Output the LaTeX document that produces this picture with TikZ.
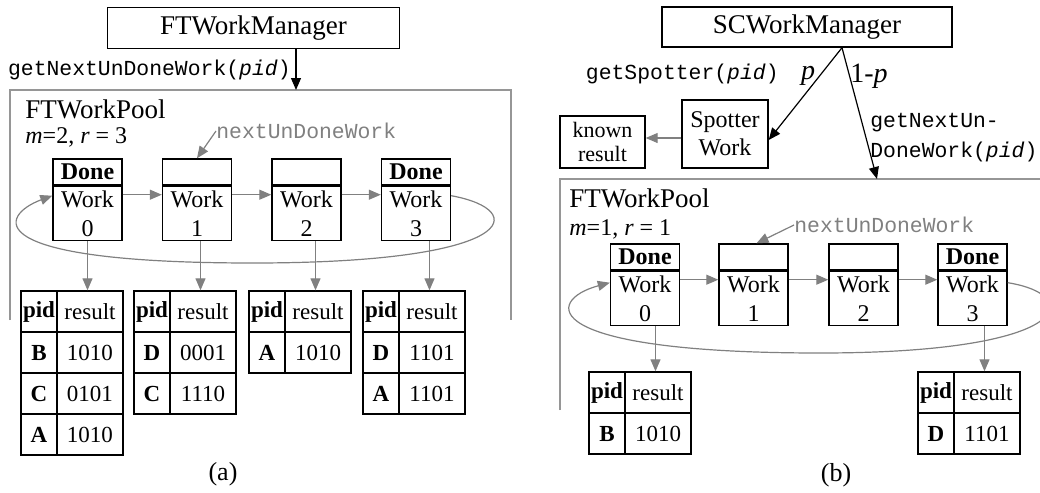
\documentclass[tikz,border=0pt]{standalone}
\usepackage{fontspec}
\setmainfont{Liberation Serif}
\setmonofont{Liberation Mono}
\usetikzlibrary{arrows.meta}
\definecolor{linkgray}{RGB}{128,128,128}
\definecolor{poolgray}{RGB}{150,150,150}
\newcommand\fsz[2]{\fontsize{#1}{#2}\selectfont}

\begin{document}
\begin{tikzpicture}[x=0.5pt,y=-0.5pt,
  box/.style={draw, line width=0.7pt, inner sep=0pt, align=center},
  mgr/.style={box, minimum width=146pt, minimum height=20.5pt, font=\fsz{13.5}{13.5}},
  headbox/.style={box, minimum width=34.5pt, minimum height=13pt, font=\fsz{12}{12}\bfseries},
  bodybox/.style={box, minimum width=34.5pt, minimum height=27pt, font=\fsz{12}{14.5}},
  pcell/.style={box, minimum width=18pt, minimum height=20.5pt, font=\fsz{11.5}{11.5}\bfseries},
  rcell/.style={box, minimum width=33pt, minimum height=20.5pt, font=\fsz{11.5}{11.5}},
  mono/.style={inner sep=0pt, font=\fsz{10.7}{15}\ttfamily},
  txt/.style={inner sep=0pt},
  pool/.style={draw=poolgray, line width=0.7pt},
  barrow/.style={draw=black, line width=0.6pt, -{Triangle[length=6pt,width=5pt]}},
  garrow/.style={draw=linkgray, line width=0.6pt, -{Triangle[length=6pt,width=5pt]}}]
\useasboundingbox (0,0) rectangle (1040,493);

% ---------------- (a) FTWorkManager ----------------
\node[mgr] (mgrA) at (253.5,28) {FTWorkManager};
\draw[pool] (10,320) -- (10,90) -- (511,90) -- (511,320);
\coordinate (poolAtop) at (296,90);
\draw[barrow] (mgrA.south -| poolAtop) -- (poolAtop);
\node[mono, anchor=east] (callA) at (291,70) {getNextUnDoneWork(\textit{pid})};
\node[txt, anchor=base west, font=\fsz{13.5}{13.5}] (poolAname) at (25,118) {FTWorkPool};
\node[txt, anchor=base west, font=\fsz{12}{12}] (paramA) at (25,143) {\textit{m}=2, \textit{r} = 3};

% work slots
\foreach \k/\xx/\tag in {0/87.5/Done, 1/197/, 2/306.5/, 3/416/Done} {
  \node[headbox] (ha\k) at (\xx,172) {\tag};
  \node[bodybox, anchor=north] (ba\k) at (ha\k.south) {Work\\\k};
}
\node[mono, anchor=west, text=linkgray] (nudA) at (216,131) {nextUnDoneWork};
\draw[garrow] (nudA.west) -- (ha1.north);
\foreach \i/\j in {0/1,1/2,2/3}
  \draw[garrow] ([yshift=-4.5pt]ba\i.north east) -- ([yshift=-4.5pt]ba\j.north west);
\draw[garrow] ([yshift=-5pt]ba3.north east) .. controls (530,210) and (520,263) .. (253,263)
  .. controls (-25,263) and (0,215) .. ([yshift=-5pt]ba0.north west);

% ---------------- (b) SCWorkManager ----------------
\node[mgr, minimum width=145pt, minimum height=20pt] (mgrB) at (807,27) {SCWorkManager};
\coordinate (apex) at ([xshift=17.5pt]mgrB.south);
\node[box, minimum width=43pt, minimum height=34pt, font=\fsz{12}{14}] (spot) at (725,134) {Spotter\\Work};
\node[box, minimum width=42.5pt, minimum height=26pt, font=\fsz{11}{12}] (known) at (602.5,142) {known\\result};
\draw[garrow] ([yshift=-2pt]spot.west) -- ([yshift=2pt]known.east);
\draw[pool] (560,410) -- (560,179) -- (1042,179);
\coordinate (poolBtop) at (877,179);
\draw[barrow] (apex) -- ([yshift=-3pt]spot.east);
\draw[barrow] (apex) -- (poolBtop);
\node[txt, font=\fsz{14}{14}\itshape] (plab) at (808,76) {p};
\node[txt, font=\fsz{14}{14}] (qlab) at (869,76) {1-\textit{p}};
\node[mono, anchor=east] (spotcall) at (779,74) {getSpotter(\textit{pid})};
\node[mono, anchor=north west, align=left] (callB) at (870,113) {getNextUn-\\DoneWork(\textit{pid})};
\node[txt, anchor=base west, font=\fsz{13.5}{13.5}] (poolBname) at (569,207) {FTWorkPool};
\node[txt, anchor=base west, font=\fsz{12}{12}] (paramB) at (569,235) {\textit{m}=1, \textit{r} = 1};

\foreach \k/\xx/\tag in {0/645/Done, 1/753.5/, 2/863.5/, 3/972.5/Done} {
  \node[headbox] (hb\k) at (\xx,257) {\tag};
  \node[bodybox, anchor=north] (bb\k) at (hb\k.south) {Work\\\k};
}
\node[mono, anchor=west, text=linkgray] (nudB) at (794,225) {nextUnDoneWork};
\draw[garrow] (nudB.west) -- ([xshift=1.5pt]hb1.north);
\foreach \i/\j in {0/1,1/2,2/3}
  \draw[garrow] ([yshift=-4.5pt]bb\i.north east) -- ([yshift=-4.5pt]bb\j.north west);
\draw[garrow] ([yshift=-6pt]bb3.north east) .. controls (1085,295) and (1075,353) .. (820,353)
  .. controls (535,353) and (545,300) .. ([yshift=-6pt]bb0.north west);

% ---------------- result tables ----------------
\foreach \tname/\xx/\yy/\rows in {ta0/21/291/{B/1010,C/0101,A/1010}, ta1/134/291/{D/0001,C/1110},
    ta2/249/291/{A/1010}, ta3/363/291/{D/1101,A/1101}, tb0/589/372/{B/1010}, tb1/918/372/{D/1101}} {
  \node[pcell] (\tname p0) at (\xx+18,\yy+20.5) {pid};
  \node[rcell] (\tname r0) at (\xx+69,\yy+20.5) {result};
  \foreach \pidv/\resv [count=\i] in \rows {
    \node[pcell] (\tname p\i) at (\xx+18,\yy+20.5+41*\i) {\pidv};
    \node[rcell] (\tname r\i) at (\xx+69,\yy+20.5+41*\i) {\resv};
  }
}
\foreach \bx/\tname in {ba0/ta0, ba1/ta1, ba2/ta2, ba3/ta3, bb0/tb0, bb3/tb1} {
  \path ([xshift=-1.25pt]\tname r0.north) coordinate (tip);
  \draw[garrow] (tip |- \bx.south) -- (tip);
}

\node[txt, font=\fsz{13}{13}] (capA) at (223,474) {(a)};
\node[txt, font=\fsz{13}{13}] (capB) at (836,475) {(b)};
\end{tikzpicture}
\end{document}
